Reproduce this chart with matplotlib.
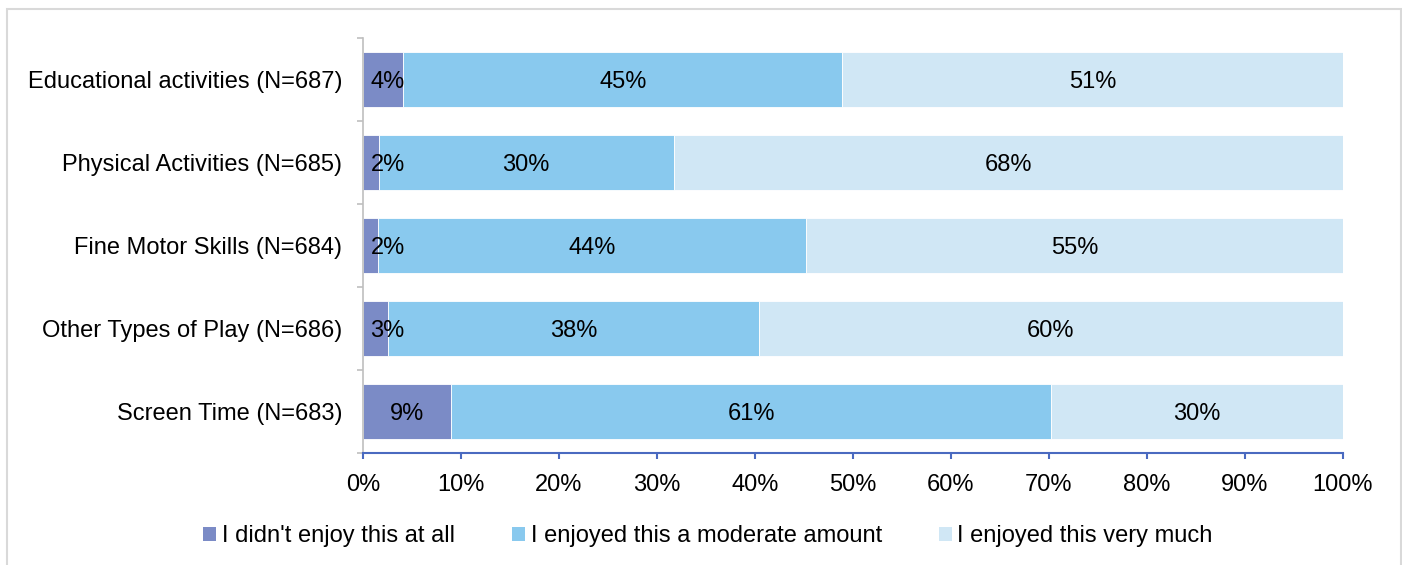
import matplotlib
matplotlib.use("Agg")
import matplotlib.pyplot as plt
from matplotlib.patches import Patch, Rectangle
import numpy as np

plt.rcParams['font.family'] = ['Liberation Sans', 'DejaVu Sans']

categories = ["Educational activities (N=687)",
              "Physical Activities (N=685)",
              "Fine Motor Skills (N=684)",
              "Other Types of Play (N=686)",
              "Screen Time (N=683)"]
series_names = ["I didn't enjoy this at all",
                "I enjoyed this a moderate amount",
                "I enjoyed this very much"]
not_at_all = [4.1, 1.6, 1.5, 2.6, 9.0]
moderate = [44.8, 30.1, 43.7, 37.8, 61.2]
very_much = [51.1, 68.3, 54.8, 59.6, 29.8]
labels_not = ["4%", "2%", "2%", "3%", "9%"]
labels_mod = ["45%", "30%", "44%", "38%", "61%"]
labels_very = ["51%", "68%", "55%", "60%", "30%"]
xticks = [0, 10, 20, 30, 40, 50, 60, 70, 80, 90, 100]
xticklabels = ["0%", "10%", "20%", "30%", "40%", "50%", "60%", "70%", "80%", "90%", "100%"]

colors = ["#7B8BC6", "#89C9EE", "#D0E7F5"]
FS = 17

W, H = 1402, 565
fig = plt.figure(figsize=(W / 100, H / 100), dpi=100)

# outer chart frame
fig.patches.append(Rectangle((7 / W, -0.1), (1401 - 7) / W, 1 - 9 / H + 0.1,
                             transform=fig.transFigure, fill=False,
                             edgecolor="#D9D9D9", linewidth=1.5, clip_on=False))

ax = fig.add_axes([363 / W, 1 - 453 / H, (1343 - 363) / W, (453 - 38) / H])

y = np.arange(len(categories))
series = [not_at_all, moderate, very_much]
labels = [labels_not, labels_mod, labels_very]
left = np.zeros(len(categories))
for vals, col, name, labs in zip(series, colors, series_names, labels):
    vals = np.array(vals)
    ax.barh(y, vals, left=left, height=0.66, color=col, edgecolor="white",
            linewidth=0.6, label=name)
    for yi, l, v, t in zip(y, left, vals, labs):
        cx = max(l + v / 2, 2.5)
        ax.text(cx, yi, t, ha="center", va="center_baseline", fontsize=FS, color="black")
    left = left + vals

ax.set_xlim(0, 100)
ax.set_ylim(len(categories) - 0.5, -0.5)

ax.set_xticks(xticks)
ax.set_xticklabels(xticklabels, fontsize=FS)
ax.set_yticks(y)
ax.set_yticklabels(categories, fontsize=FS)
ax.set_yticks(np.arange(len(categories) + 1) - 0.5, minor=True)

ax.tick_params(axis="y", which="major", length=0, pad=15)
ax.tick_params(axis="y", which="minor", length=4.3, width=1.2, color="#BFBFBF", direction="out")
ax.tick_params(axis="x", which="major", length=4.3, width=1.5, color="#4A6AC0", direction="out", pad=11)

for s in ["top", "right"]:
    ax.spines[s].set_visible(False)
ax.spines["left"].set_color("#BFBFBF")
ax.spines["left"].set_linewidth(1.2)
ax.spines["bottom"].set_color("#4A6AC0")
ax.spines["bottom"].set_linewidth(1.5)

handles = [Patch(facecolor=c, edgecolor="none") for c in colors]
fig.legend(handles, series_names, loc="center", bbox_to_anchor=(708 / W, 1 - 536 / H),
           ncol=3, frameon=False, fontsize=FS, handlelength=0.55, handleheight=0.55,
           handletextpad=0.25, columnspacing=2.4)

fig.savefig("out.png", dpi=100)
